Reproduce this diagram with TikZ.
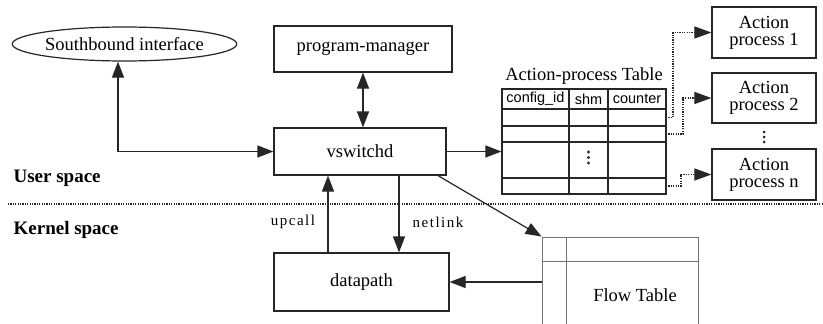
\documentclass[tikz,border=0pt]{standalone}
\usepackage{fontspec}
\setmainfont{Liberation Serif}
\newfontfamily\tabsans{Liberation Sans}
\usetikzlibrary{arrows.meta,shapes.geometric,calc}
\begin{document}
\begin{tikzpicture}[x=1pt,y=-1pt,
  font=\fontsize{18.5}{20}\selectfont,
  line width=1.2pt,
  ink/.style={draw=black!85},
  box/.style={ink,rectangle,inner sep=0pt,align=center},
  ell/.style={ink,ellipse,inner sep=0pt,minimum width=200pt,minimum height=34pt},
  tip/.style={-{Triangle[length=16pt,width=12pt]}},
  dtip/.style={-{Triangle[length=17pt,width=12pt]}},
  bitip/.style={{Triangle[length=16pt,width=12pt]}-{Triangle[length=16pt,width=12pt]}},
  conn/.style={ink},
  dconn/.style={draw=black!85,dash pattern=on 1.2pt off 1.2pt,line width=1.1pt},
  lbl/.style={font=\fontsize{15}{17}\selectfont\addfontfeature{LetterSpace=10}},
  hdr/.style={font=\tabsans\fontsize{14.5}{17}\selectfont,inner sep=0pt},
  side/.style={font=\bfseries\fontsize{19}{21}\selectfont,anchor=west,inner sep=0pt},
  grid/.style={draw=black!55,line width=0.9pt},
  tline/.style={draw=black!85,line width=1.2pt}]
\clip (0,0) rectangle (823,324);
\fill[white] (0,0) rectangle (823,324);

% main nodes
\node[ell] (sb) at (124.5,44) {Southbound interface};
\node[box,minimum width=178pt,minimum height=46pt] (pm) at (363,49) {program-manager};
\node[box,minimum width=172pt,minimum height=47pt] (vs) at (360,151.5) {vswitchd};
\node[box,minimum width=175pt,minimum height=58pt] (dp) at (361.5,282) {datapath};
\node[box,minimum width=104pt,minimum height=51pt] (ap1) at (764,32.5) {Action\\[-3pt]process 1};
\node[box,minimum width=104pt,minimum height=50pt] (ap2) at (764,98) {Action\\[-3pt]process 2};
\node[box,minimum width=104pt,minimum height=51pt] (apn) at (764,174.5) {Action\\[-3pt]process n};

% action-process table
\node (tt) at (584,76) {Action-process Table};
\node[tline,rectangle,minimum width=164pt,minimum height=105pt,inner sep=0pt] (tbl) at (584,141.5) {};
\draw[tline] (502,109) -- (666,109) (502,126) -- (666,126) (502,142) -- (666,142) (502,178) -- (666,178);
\draw[tline] (569,89) -- (569,194) (608,89) -- (608,194);
\node[hdr] (h1) at (535.5,99) {config\_id};
\node[hdr] (h2) at (588.5,99) {shm};
\node[hdr] (h3) at (637,99) {counter};
\fill[black!85] (588.5,152) circle (1.7) (588.5,157.5) circle (1.7) (588.5,163) circle (1.7);
\fill[black!85] (764,132) circle (1.5) (764,137) circle (1.5) (764,142) circle (1.5);

% row end points
\coordinate (r1e) at (666,117.5);
\coordinate (r2e) at (666,134);
\coordinate (r4e) at (666,186);

% flow table
\node[grid,rectangle,minimum width=156pt,minimum height=110pt,inner sep=0pt] (ft) at (620,292) {};
\draw[grid] ($(ft.north west)+(25,0)$) -- ($(ft.south west)+(25,0)$);
\draw[grid] ($(ft.north west)+(0,25)$) -- ($(ft.north east)+(0,25)$);
\node (ftl) at (635,295) {Flow Table};

% separator and side labels
\coordinate (sepl) at (8,204);
\coordinate (sepr) at (823,204);
\draw[dconn] (sepl) -- (sepr);
\node[side] (us) at (13,178.5) {User space};
\node[side] (ks) at (13,230) {Kernel space};

% helper x positions
\coordinate (xsb) at (118,0);
\coordinate (xup) at (328,0);
\coordinate (xnl) at (399,0);
\coordinate (xdg) at (438,0);

% connectors
\draw[conn,bitip] (sb.south -| xsb) |- (vs.west);
\draw[conn,bitip] (pm.south) -- (pm.south |- vs.north);
\draw[conn,tip] (vs.east) -- (vs.east -| tbl.west);
\draw[conn,tip] (dp.north -| xup) -- (vs.south -| xup);
\draw[conn,tip] (vs.south -| xnl) -- (dp.north -| xnl);
\draw[conn,tip] (vs.south -| xdg) -- (ft.north west);
\draw[conn,tip] (ft.west |- dp.east) -- (dp.east);
\node[lbl] (lup) at (293,222) {upcall};
\node[lbl] (lnl) at (438,222) {netlink};

% dotted connectors
\draw[dconn,dtip] (r1e) -- ++(7,0) |- (ap1.west);
\draw[dconn,dtip] (r2e) -- ++(17,0) |- (ap2.west);
\draw[dconn,dtip] (r4e) -- ++(15,0) |- (apn.west);
\end{tikzpicture}
\end{document}
